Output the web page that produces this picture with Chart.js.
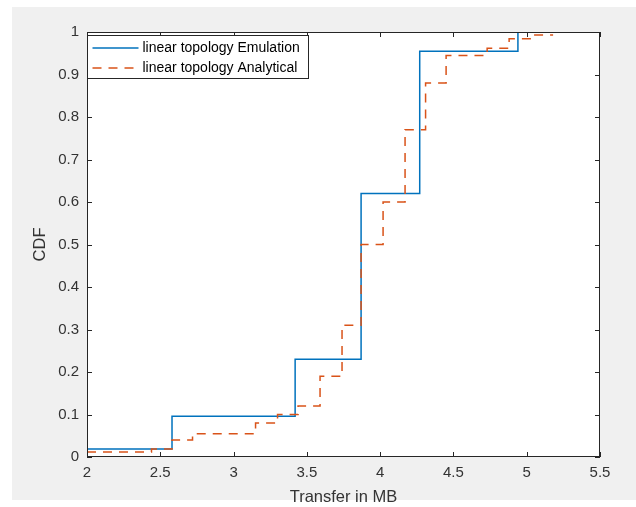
<!DOCTYPE html>
<html>
<head>
<meta charset="utf-8">
<script src="https://cdn.jsdelivr.net/npm/chart.js@4.4.1/dist/chart.umd.min.js"></script>
<style>
    html, body { margin: 0; padding: 0; background: #ffffff; }
    #wrap { position: relative; width: 636px; height: 507px; overflow: hidden; }
    #panel { position: absolute; left: 12px; top: 7px; width: 624px; height: 493px; background: #f0f0f0; }
    #cdfChart { position: absolute; left: 0; top: 0; }
</style>
</head>
<body>
<div id="wrap">
    <div id="panel"></div>
    <canvas id="cdfChart" width="636" height="507"></canvas>
</div>
<script>
    "use strict";

    // Emulation: step positions (MB) and CDF level from that x onward
    const emuX = [2.0, 2.58, 3.42, 3.87, 4.27, 4.94];
    const emuY = [0.019, 0.096, 0.23, 0.62, 0.955, 1.0];

    // Analytical: step positions and CDF levels (last point closes the final step)
    const anaX = [2.0, 2.44, 2.58, 2.72, 3.15, 3.30, 3.44, 3.59, 3.74, 3.87, 4.02, 4.17, 4.31, 4.45, 4.73, 4.88, 5.03, 5.18];
    const anaY = [0.012, 0.019, 0.04, 0.055, 0.08, 0.10, 0.12, 0.19, 0.31, 0.50, 0.60, 0.77, 0.88, 0.945, 0.962, 0.984, 0.993, 0.993];

    const seriesLabels = ["linear topology Emulation", "linear topology Analytical"];
    const xTicks = [2, 2.5, 3, 3.5, 4, 4.5, 5, 5.5];
    const yTicks = [0, 0.1, 0.2, 0.3, 0.4, 0.5, 0.6, 0.7, 0.8, 0.9, 1];

    const AXIS_COLOR = "#262626";
    const TEXT_COLOR = "#333333";
    const FONT = "'Liberation Sans', Arial, Helvetica, sans-serif";

    const toPoints = (xs, ys) => xs.map((x, i) => ({ x: x, y: ys[i] }));

    /** 플롯 영역 흰 배경 */
    const plotBgPlugin = {
        id: "plotBgPlugin",
        beforeDatasetsDraw(chart) {
            const { ctx, chartArea: a } = chart;
            ctx.save();
            ctx.fillStyle = "#ffffff";
            ctx.fillRect(a.left, a.top, a.right - a.left, a.bottom - a.top);
            ctx.restore();
        }
    };

    /** MATLAB 스타일 박스 + 안쪽 눈금 */
    const boxPlugin = {
        id: "boxPlugin",
        afterDatasetsDraw(chart) {
            const { ctx, chartArea: a, scales } = chart;
            const len = 5;
            ctx.save();
            ctx.strokeStyle = AXIS_COLOR;
            ctx.lineWidth = 1;
            ctx.beginPath();
            xTicks.forEach((v) => {
                const px = Math.round(scales.x.getPixelForValue(v)) + 0.5;
                ctx.moveTo(px, a.bottom);
                ctx.lineTo(px, a.bottom - len);
                ctx.moveTo(px, a.top);
                ctx.lineTo(px, a.top + len);
            });
            yTicks.forEach((v) => {
                const py = Math.round(scales.y.getPixelForValue(v)) + 0.5;
                ctx.moveTo(a.left, py);
                ctx.lineTo(a.left + len, py);
                ctx.moveTo(a.right, py);
                ctx.lineTo(a.right - len, py);
            });
            ctx.stroke();
            ctx.strokeRect(a.left + 0.5, a.top + 0.5, a.right - a.left - 1, a.bottom - a.top - 1);
            ctx.restore();
        }
    };

    /** 좌상단 범례 박스 */
    const legendBoxPlugin = {
        id: "legendBoxPlugin",
        afterDraw(chart) {
            const { ctx, chartArea: a } = chart;
            const bx = a.left + 0.5;
            const by = a.top + 3.5;
            const bw = 221;
            const bh = 43;
            ctx.save();
            ctx.fillStyle = "#ffffff";
            ctx.fillRect(bx, by, bw, bh);
            ctx.strokeStyle = AXIS_COLOR;
            ctx.lineWidth = 1;
            ctx.strokeRect(bx, by, bw, bh);

            ctx.font = "14px " + FONT;
            ctx.textBaseline = "middle";
            ctx.textAlign = "left";
            chart.data.datasets.forEach((ds, i) => {
                const ry = by + 12.5 + i * 20;
                ctx.strokeStyle = ds.borderColor;
                ctx.lineWidth = ds.borderWidth;
                ctx.setLineDash(ds.borderDash || []);
                ctx.beginPath();
                ctx.moveTo(bx + 5, ry);
                ctx.lineTo(bx + 51, ry);
                ctx.stroke();
                ctx.setLineDash([]);
                ctx.fillStyle = "#000000";
                ctx.fillText(ds.label, bx + 55, ry + 0.5);
            });
            ctx.restore();
        }
    };

    const canvas = document.getElementById("cdfChart");

    new Chart(canvas.getContext("2d"), {
        type: "line",
        data: {
            datasets: [
                {
                    label: seriesLabels[0],
                    data: toPoints(emuX, emuY),
                    borderColor: "#0072BD",
                    backgroundColor: "#0072BD",
                    borderWidth: 1.5,
                    stepped: "before",
                    pointRadius: 0,
                    fill: false,
                    order: 1
                },
                {
                    label: seriesLabels[1],
                    data: toPoints(anaX, anaY),
                    borderColor: "#D95319",
                    backgroundColor: "#D95319",
                    borderWidth: 1.5,
                    borderDash: [9, 7],
                    stepped: "before",
                    pointRadius: 0,
                    fill: false,
                    order: 0
                }
            ]
        },
        options: {
            responsive: false,
            animation: false,
            devicePixelRatio: 1,
            layout: {
                padding: { left: 0, top: 32, right: 36, bottom: 0 }
            },
            plugins: {
                legend: { display: false },
                tooltip: { enabled: false }
            },
            scales: {
                x: {
                    type: "linear",
                    min: 2,
                    max: 5.5,
                    afterFit(scale) { scale.height = 50; },
                    afterBuildTicks(scale) { scale.ticks = xTicks.map((v) => ({ value: v })); },
                    grid: { display: false, drawTicks: false },
                    border: { display: false },
                    ticks: {
                        padding: 7,
                        maxRotation: 0,
                        autoSkip: false,
                        color: TEXT_COLOR,
                        font: { family: FONT, size: 15 },
                        callback: (v) => String(Math.round(v * 10) / 10)
                    },
                    title: {
                        display: true,
                        text: "Transfer in MB",
                        color: TEXT_COLOR,
                        font: { family: FONT, size: 16.5 },
                        padding: { top: 0, bottom: 0 }
                    }
                },
                y: {
                    type: "linear",
                    min: 0,
                    max: 1,
                    afterFit(scale) { scale.width = 87; },
                    afterBuildTicks(scale) { scale.ticks = yTicks.map((v) => ({ value: v })); },
                    grid: { display: false, drawTicks: false },
                    border: { display: false },
                    ticks: {
                        padding: 8,
                        autoSkip: false,
                        color: TEXT_COLOR,
                        font: { family: FONT, size: 15 },
                        callback: (v) => String(Math.round(v * 10) / 10)
                    },
                    title: {
                        display: true,
                        text: "CDF",
                        color: TEXT_COLOR,
                        font: { family: FONT, size: 16.5 },
                        padding: { top: 31, bottom: 0 }
                    }
                }
            }
        },
        plugins: [plotBgPlugin, boxPlugin, legendBoxPlugin]
    });
</script>
</body>
</html>
